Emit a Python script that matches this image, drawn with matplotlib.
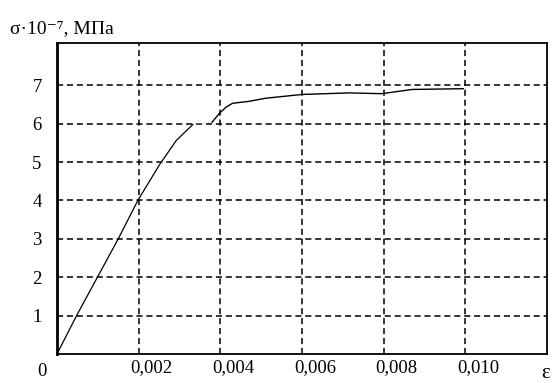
#!/usr/bin/env python3

import matplotlib
matplotlib.use("Agg")
import matplotlib.pyplot as plt
import matplotlib.transforms as mtransforms

# deformacao e tensao
eps_elast = [0.0, 0.00048, 0.00099, 0.0015, 0.00198, 0.00251, 0.00292, 0.00333]
sig_elast = [0.0, 1.0, 2.0, 3.0, 4.0, 4.93, 5.56, 5.98]

eps_salto = [0.00333, 0.0038]
sig_salto = [5.98, 6.04]

eps_plast = [0.0038, 0.00398, 0.00414, 0.0043, 0.0047, 0.0051, 0.006, 0.00715, 0.00795, 0.0087, 0.00995]
sig_plast = [6.04, 6.27, 6.43, 6.53, 6.58, 6.66, 6.76, 6.8, 6.78, 6.89, 6.91]

x_ticks = [0.002, 0.004, 0.006, 0.008, 0.010]
x_rotulos = ["0,002", "0,004", "0,006", "0,008", "0,010"]
y_ticks = [1, 2, 3, 4, 5, 6, 7]
y_rotulos = ["1", "2", "3", "4", "5", "6", "7"]

fonte = ["Liberation Serif", "DejaVu Serif"]
plt.rcParams["font.family"] = fonte

fig = plt.figure(figsize=(5.56, 3.83), dpi=100)
ax = fig.add_axes([57 / 556, 1 - 354 / 383, (547 - 57) / 556, (354 - 43) / 383])

ax.plot(eps_elast, sig_elast, color="black", lw=0.9)
ax.plot(eps_salto, sig_salto, color="#aaaaaa", lw=0.7, linestyle=":")
ax.plot(eps_plast, sig_plast, color="black", lw=1.0)

ax.set_xlim(0, 0.012)
ax.set_ylim(0, 8.1)

ax.set_xticks(x_ticks)
ax.set_xticklabels(x_rotulos)
ax.set_yticks(y_ticks)
ax.set_yticklabels(y_rotulos)
ax.tick_params(axis="both", length=0, labelsize=13.5, colors="black")
ax.tick_params(axis="x", pad=4)
ax.tick_params(axis="y", pad=11)

desloc = mtransforms.ScaledTranslation(13 / 100, 0, fig.dpi_scale_trans)
for rotulo in ax.get_xticklabels():
    rotulo.set_transform(rotulo.get_transform() + desloc)

ax.grid(True, color="black", lw=1.1, linestyle=(0, (4, 2.5)))

for lado in ["top", "right", "bottom"]:
    ax.spines[lado].set_linewidth(1.3)
ax.spines["left"].set_linewidth(2.0)

fig.text(41.5 / 556, 1 - 372 / 383, "0", fontsize=13.5, ha="center", va="center")
fig.text(546 / 556, 1 - 373 / 383, "ε", fontsize=15, ha="center", va="center")
fig.text(10 / 556, 1 - 33 / 383, "σ·10⁻⁷, МПа", fontsize=14, ha="left", va="baseline")

fig.savefig("out.png", dpi=100)
